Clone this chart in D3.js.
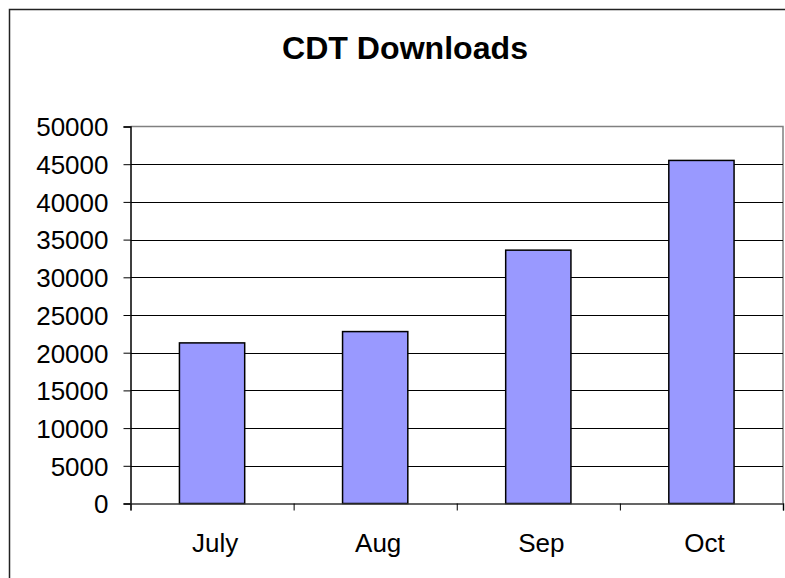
<!DOCTYPE html>
<html>
<head>
<meta charset="utf-8">
<script src="https://cdn.jsdelivr.net/npm/d3@7"></script>
<style>
  html, body { margin: 0; padding: 0; background: #fff; }
  svg { display: block; }
  text { font-family: "Liberation Sans", Arial, sans-serif; fill: #000; }
</style>
</head>
<body>
<svg id="chart" width="785" height="578"></svg>
<script>
const categories = ["July", "Aug", "Sep", "Oct"];
const downloads = [21300, 22800, 33600, 45500];
const yTicks = [0, 5000, 10000, 15000, 20000, 25000, 30000, 35000, 40000, 45000, 50000];
const chartTitle = "CDT Downloads";

(function () {
const svg = d3.select("#chart");
const pLeft = 130.5, pRight = 783, pTop = 126.5, pBottom = 503.5;

// outer chart border
svg.append("rect")
  .attr("x", 9.5).attr("y", 9.5).attr("width", 820).attr("height", 620)
  .attr("fill", "none").attr("stroke", "#222").attr("stroke-width", 1.5);

// title
svg.append("text")
  .attr("x", 405).attr("y", 58.5)
  .attr("text-anchor", "middle")
  .attr("font-size", 31).attr("font-weight", "bold")
  .attr("textLength", 246).attr("lengthAdjust", "spacingAndGlyphs")
  .text(chartTitle);

const x = d3.scaleBand().domain(categories).range([pLeft, pRight])
  .paddingInner(0.6).paddingOuter(0.3);
const y = d3.scaleLinear().domain([0, 50000]).range([pBottom, pTop]);

// plot area outline (top / right in grey)
svg.append("path")
  .attr("d", `M${pLeft},${pTop}H${pRight}V${pBottom}`)
  .attr("fill", "none").attr("stroke", "#808080").attr("stroke-width", 1.5);

// gridlines
svg.append("g").selectAll("line")
  .data(yTicks.filter(t => t > 0 && t < 50000))
  .join("line")
  .attr("x1", pLeft).attr("x2", pRight)
  .attr("y1", d => Math.round(y(d)) + 0.5).attr("y2", d => Math.round(y(d)) + 0.5)
  .attr("stroke", "#000").attr("stroke-width", 1);

// bars
svg.append("g").selectAll("rect")
  .data(downloads)
  .join("rect")
  .attr("x", (d, i) => x(categories[i]))
  .attr("y", d => y(d))
  .attr("width", x.bandwidth())
  .attr("height", d => y(0) - y(d))
  .attr("fill", "#9999FF").attr("stroke", "#000").attr("stroke-width", 1.5);

// y axis
const yAxis = svg.append("g")
  .attr("transform", `translate(${pLeft},0)`)
  .call(d3.axisLeft(y).tickValues(yTicks).tickSize(7).tickPadding(15).tickFormat(d3.format("d")));
yAxis.select(".domain").attr("stroke", "#000").attr("stroke-width", 1.5);
yAxis.selectAll(".tick line").attr("stroke", "#000");
yAxis.selectAll(".tick text")
  .attr("font-family", "'Liberation Sans', Arial, sans-serif")
  .attr("font-size", 26).attr("fill", "#000").attr("dy", "0.36em");

// x axis: boundary tick marks
const xb = d3.scaleLinear().domain([0, categories.length]).range([pLeft, pRight]);
const xAxis = svg.append("g")
  .attr("transform", `translate(0,${pBottom})`)
  .call(d3.axisBottom(xb).tickValues(d3.range(categories.length + 1)).tickSize(7).tickFormat(""));
xAxis.select(".domain").attr("stroke", "#333").attr("stroke-width", 1.5);
xAxis.selectAll(".tick line").attr("stroke", "#000");

// x labels
svg.append("g").selectAll("text")
  .data(categories)
  .join("text")
  .attr("x", d => x(d) + x.bandwidth() / 2 + 3)
  .attr("y", 552)
  .attr("text-anchor", "middle")
  .attr("font-size", 26)
  .text(d => d);
})();
</script>
</body>
</html>
